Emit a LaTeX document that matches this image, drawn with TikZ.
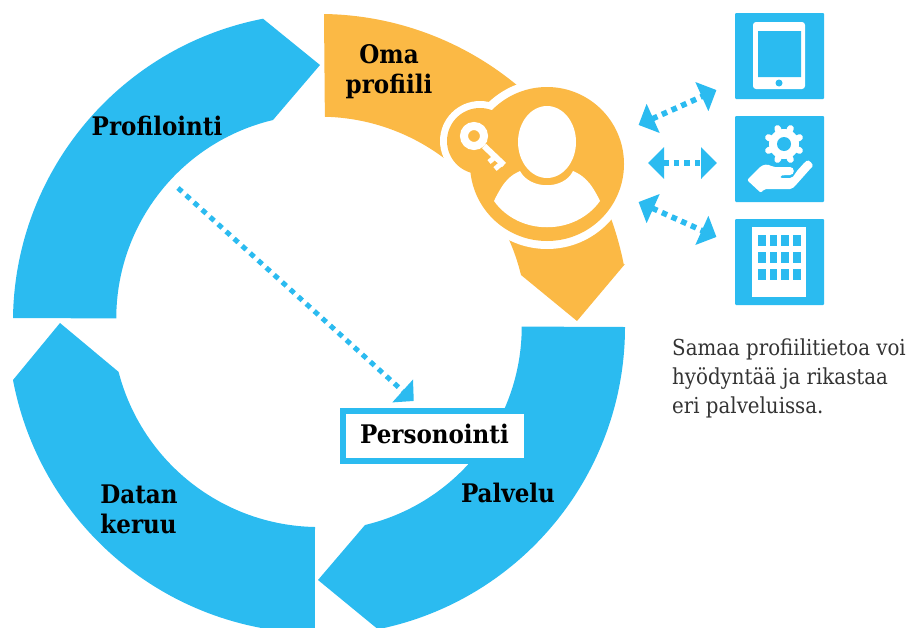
\documentclass[tikz,border=0pt]{standalone}
\usepackage{fontspec}
\setmainfont{DejaVu Serif Condensed}
\usetikzlibrary{arrows.meta}
\definecolor{ringblue}{HTML}{2BBBF0}
\definecolor{ringorange}{HTML}{FBB945}
\tikzset{
  phase/.style={font=\bfseries\fontsize{25.6}{30}\selectfont, align=left, inner sep=0pt},
  panel/.style={fill=ringblue, draw=none, minimum width=89, minimum height=86, inner sep=0pt, rounded corners=1},
  dotarrow/.style={draw=ringblue, line width=5.6, dash pattern=on 5.6 off 5,
    {Triangle[length=16,width=31,sep=5]}-{Triangle[length=16,width=31,sep=5]}},
  longarrow/.style={draw=ringblue, line width=5, dash pattern=on 5.5 off 5.3,
    -{Triangle[length=15,width=30,sep=3]}},
}

\begin{document}
\begin{tikzpicture}[x=1pt,y=1pt,yscale=-1]
    \useasboundingbox (0,0) rectangle (907,627);

    % ring
    \fill[ringblue] (13,318) arc[start angle=180.75,end angle=259,radius=309]
      -- (320,65) -- (273,120) arc[start angle=256.6,end angle=180,radius=204] -- cycle;
    \fill[ringorange] (324,14) arc[start angle=270.9,end angle=348.9,radius=310.5]
      -- (625,264) -- (577,321) -- (521,275) arc[start angle=346.4,end angle=271.4,radius=207] -- cycle;
    \fill[ringblue] (625,327) arc[start angle=0,end angle=78.5,radius=308.5]
      -- (318,580) -- (365,525) arc[start angle=76.6,end angle=0,radius=204] -- cycle;
    \fill[ringblue] (13,380) arc[start angle=169.3,end angle=90.7,radius=311]
      -- (315,527) arc[start angle=91.1,end angle=165.5,radius=207] -- (60,323) -- cycle;

    % profile badge
    \fill[white] (547,164) circle (85) (480,141) circle (40);
    \fill[ringorange] (547,164) circle (77) (480,141) circle (33);
    \fill[white] (547,142) ellipse (29 and 36);
    \fill[white] (494,201) .. controls (505,178) and (512,175) .. (520,171)
      .. controls (530,190) and (564,190) .. (573,171)
      .. controls (582,175) and (590,180) .. (600,201)
      .. controls (575,236) and (519,236) .. (494,201) -- cycle;

    % key
    \draw[white, line width=8] (474,136) circle (10);
    \draw[white, line width=6] (484,146) -- (504,165);
    \draw[white, line width=5] (495,157) -- (489,162) (502,163) -- (495,169);

    % services
    \node[panel] (tablet) at (779.5,56) {};
    \node[panel] (service) at (779.5,159) {};
    \node[panel] (office) at (779.5,262) {};

    \fill[white, rounded corners=3] (753,22) rectangle (805,89);
    \fill[ringblue] (758,31) rectangle (801,77) (779,83) circle (3.5);

    \fill[white] (784,144) circle (15);
    \foreach \a in {0,45,...,315}
      \draw[white, line width=6.5, line cap=round] (784,144) -- +(\a+22.5:17);
    \fill[ringblue] (784,144) circle (7);
    \fill[white, rounded corners=2] (747,180) -- (758,169) .. controls (763,164) and (768,164) .. (773,167)
      -- (788,167) .. controls (795,167) and (795,175) .. (788,175) -- (780,175.5) -- (780,178) -- (788,178)
      .. controls (792,178) and (794,176) .. (796,172) -- (805,162) .. controls (809,159) and (814,165) .. (811,168)
      -- (795,186) .. controls (793,188) and (790,189) .. (788,189) -- (764,189) -- (761,193) -- cycle;

    \fill[white] (752,227) rectangle (806,297);
    \foreach \x in {758,769.5,781,793}
      \foreach \y in {235,252,269}
        \fill[ringblue] (\x,\y) rectangle +(7.5,10.5);

    % links
    \coordinate (linka) at (634,127);
    \coordinate (linkb) at (721,88);
    \coordinate (linkc) at (643,163);
    \coordinate (linkd) at (722,163);
    \coordinate (linke) at (634,200);
    \coordinate (linkf) at (721,239);
    \draw[dotarrow] (linka) -- (linkb);
    \draw[dotarrow] (linkc) -- (linkd);
    \draw[dotarrow] (linke) -- (linkf);

    % labels
    \node[phase] (profilointi) at (157,126) {Profilointi};
    \node[phase, align=center] (oma) at (389,72) {Oma\\profiili};
    \node[phase] (datan) at (139,509) {Datan\\keruu};
    \node[phase] (palvelu) at (508,493) {Palvelu};

    \node[draw=ringblue, line width=6, fill=white, minimum width=184, minimum height=50,
      inner sep=0pt, text depth=4, font=\bfseries\fontsize{25.6}{30}\selectfont] (personointi) at (434.5,436) {Personointi};
    \coordinate (start) at (178,188);
    \coordinate (end) at (416,403);
    \draw[longarrow] (start) -- (end);

    \node[anchor=north west, align=left, inner sep=0pt, text=black!80, font=\fontsize{22}{29}\selectfont] (note) at (672,339)
      {Samaa profiilitietoa voi\\hyödyntää ja rikastaa\\eri palveluissa.};

  \end{tikzpicture}
\end{document}
